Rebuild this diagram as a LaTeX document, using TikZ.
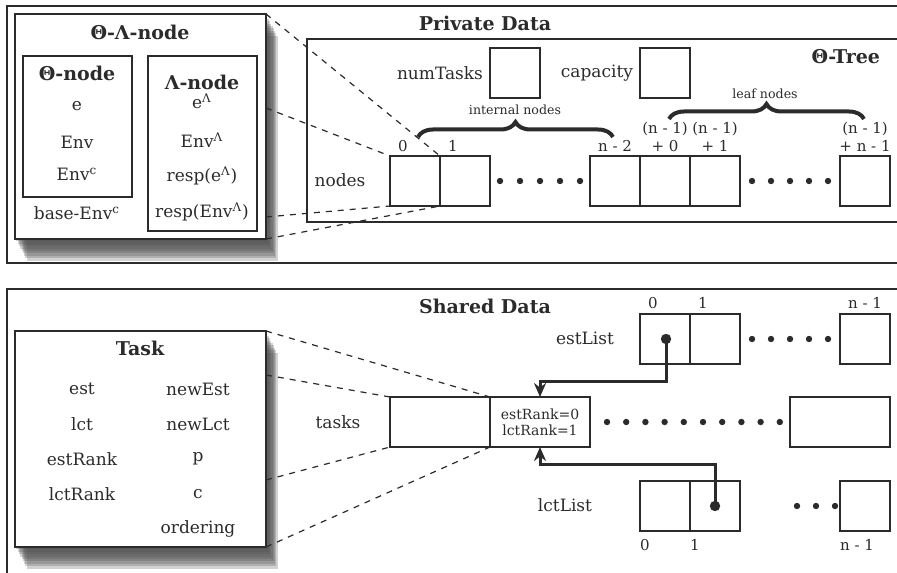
\documentclass[tikz,border=0pt]{standalone}
\usepackage{fontspec}
\setmainfont{DejaVu Serif}
\usetikzlibrary{positioning,backgrounds,arrows.meta,decorations.pathreplacing}
\definecolor{ink}{HTML}{2B2B2B}
\tikzset{
  frame/.style={draw=ink, line width=0.8pt},
  cell/.style={draw=ink, line width=0.75pt, minimum width=25pt, minimum height=25pt, inner sep=0pt, outer sep=0pt},
  widecell/.style={cell, minimum width=50pt},
  card/.style={draw=ink, line width=0.75pt, fill=white, inner sep=0pt, outer sep=0pt},
  inbox/.style={draw=ink, line width=0.75pt, inner sep=0pt, outer sep=0pt, minimum width=54.5pt},
  txt/.style={text=ink, font=\fontsize{8.5}{10}\selectfont},
  ttl/.style={text=ink, font=\bfseries\fontsize{9.5}{11}\selectfont},
  idx/.style={text=ink, font=\fontsize{7.5}{9}\selectfont, align=center},
  small/.style={text=ink, font=\fontsize{6.3}{7}\selectfont},
  zoomline/.style={draw=ink, dashed, line width=0.6pt},
  curly/.style={draw=ink, line width=2pt, decorate, decoration={brace, amplitude=7.5pt}},
  pointer/.style={draw=ink, line width=1.5pt, -{Stealth[length=7pt, width=6pt]}}
}
% soft shadow behind a card
\newcommand{\softshadow}[1]{%
  \begin{scope}[on background layer]
    \foreach \k in {1,...,9}
      \fill[black!70, opacity=.25] ([xshift=0.65*\k pt, yshift=-1.2*\k pt]#1.south west)
        rectangle ([xshift=0.65*\k pt, yshift=-1.2*\k pt]#1.north east);
  \end{scope}}
\begin{document}
\begin{tikzpicture}[x=0.5pt, y=-0.5pt]
  \useasboundingbox (0,0) rectangle (897,572);

  % Frames
  \draw[frame] (7,6) rectangle (905,263);
  \draw[frame] (307,39) rectangle (905,222);
  \draw[frame] (7,289) rectangle (905,580);

  % Theta-Lambda node
  \node[card, minimum width=125.5pt, minimum height=112.5pt] (tl) at (140.5,126.5) {};
  \softshadow{tl}
  \node[ttl] (tltitle) at (140,32) {Θ-Λ-node};
  \node[inbox, minimum height=70.5pt] (th) at (77.5,126.5) {};
  \node[inbox, minimum height=87.5pt] (la) at (202.5,143.5) {};
  \node[ttl] (thtitle) at (77,73) {Θ-node};
  \node[txt] (the) at (77,106) {e};
  \node[txt] (thenv) at (77,142) {Env};
  \node[txt] (thenvc) at (77,174) {Env\textsuperscript{c}};
  \node[txt] (base) at (77,213) {base-Env\textsuperscript{c}};
  \node[ttl] (latitle) at (202,82) {Λ-node};
  \node[txt] (lae) at (202,101) {e\textsuperscript{Λ}};
  \node[txt] (laenv) at (202,140) {Env\textsuperscript{Λ}};
  \node[txt] (lare) at (202,176) {resp(e\textsuperscript{Λ})};
  \node[txt] (larenv) at (202,212) {resp(Env\textsuperscript{Λ})};

  % Private data
  \node[ttl] (private) at (485,23) {Private Data};
  \node[ttl, anchor=east] (tree) at (887,57) {Θ-Tree};
  \node[cell] (num) at (515,73) {};
  \node[txt, left=0pt of num] (numl) {numTasks};
  \node[cell] (cap) at (665,73) {};
  \node[txt, left=0pt of cap] (capl) {capacity};

  \node[txt] (nodesl) at (340,180) {nodes};
  \node[cell] (n0) at (415,181) {};
  \node[cell, right=0pt of n0] (n1) {};
  \node[cell] (n2) at (615,181) {};
  \node[cell, right=0pt of n2] (f0) {};
  \node[cell, right=0pt of f0] (f1) {};
  \node[cell] (fn) at (865,181) {};
  \foreach \x in {500,520,...,580} \fill[ink] (\x,181) circle (1.6pt);
  \foreach \x in {752,771,...,828} \fill[ink] (\x,181) circle (1.6pt);

  \node[idx] (n0i) at (403,146) {0};
  \node[idx] (n1i) at (453,146) {1};
  \node[idx] (n2i) at (615,146) {n - 2};
  \node[idx] (f0i) at (665,137) {(n - 1)\\+ 0};
  \node[idx] (f1i) at (715,137) {(n - 1)\\+ 1};
  \node[idx] (fni) at (865,137) {(n - 1)\\+ n - 1};

  \draw[curly] (418,137) -- (613,137);
  \node[small] (intl) at (515,110) {internal nodes};
  \draw[curly] (669,119) -- (864,119);
  \node[small] (leafl) at (765,94) {leaf nodes};

  \draw[zoomline] (tl.north east) -- (n1.north west);
  \draw[zoomline] ([yshift=9.25pt]tl.east) -- (n0.north west);
  \draw[zoomline] ([yshift=-45.25pt]tl.east) -- (n0.south west);
  \draw[zoomline] (tl.south east) -- (n1.south west);

  % Task
  \node[card, minimum width=125.5pt, minimum height=108pt] (task) at (140.5,439) {};
  \softshadow{task}
  \node[ttl] (tasktitle) at (140,348) {Task};
  \node[txt] (est) at (82,389) {est};
  \node[txt] (lct) at (82,424) {lct};
  \node[txt] (estr) at (82,459) {estRank};
  \node[txt] (lctr) at (82,494) {lctRank};
  \node[txt] (nest) at (198,389) {newEst};
  \node[txt] (nlct) at (198,424) {newLct};
  \node[txt] (p) at (198,459) {p};
  \node[txt] (c) at (198,494) {c};
  \node[txt] (ord) at (198,529) {ordering};

  % Shared data
  \node[ttl] (shared) at (485,306) {Shared Data};

  \node[txt] (estl) at (585,338) {estList};
  \node[cell] (e0) at (665,339) {};
  \node[cell, right=0pt of e0] (e1) {};
  \node[cell] (en) at (865,339) {};
  \foreach \x in {752,771,...,828} \fill[ink] (\x,339) circle (1.6pt);
  \node[idx] (e0i) at (653,303) {0};
  \node[idx] (e1i) at (703,303) {1};
  \node[idx] (eni) at (865,303) {n - 1};

  \node[txt] (tasksl) at (338,422) {tasks};
  \node[widecell] (t0) at (440,422) {};
  \node[widecell, right=0pt of t0, align=center, font=\fontsize{7}{8}\selectfont, text=ink] (t1) {estRank=0\\lctRank=1};
  \node[widecell] (tn) at (840,422) {};
  \foreach \i in {0,...,9} \fill[ink] ({607+19.2*\i},422) circle (1.6pt);

  \node[txt] (lctl) at (565,505) {lctList};
  \node[cell] (l0) at (665,506) {};
  \node[cell, right=0pt of l0] (l1) {};
  \node[cell] (ln) at (865,506) {};
  \foreach \x in {797,816,835} \fill[ink] (\x,506) circle (1.6pt);
  \node[idx] (l0i) at (645,545) {0};
  \node[idx] (l1i) at (695,545) {1};
  \node[idx] (lni) at (857,545) {n - 1};

  \draw[zoomline] (task.north east) -- (t1.north west);
  \draw[zoomline] ([yshift=32pt]task.east) -- (t0.north west);
  \draw[zoomline] ([yshift=-20.5pt]task.east) -- (t0.south west);
  \draw[zoomline] (task.south east) -- (t1.south west);

  % Pointers
  \fill[ink] ([xshift=0.5pt]e0.center) circle (2.6pt);
  \draw[pointer] ([xshift=0.5pt]e0.center) -- ++(0,42) -| (t1.north);
  \fill[ink] (l1.center) circle (2.6pt);
  \draw[pointer] (l1.center) -- ++(0,-42) -| (t1.south);
\end{tikzpicture}
\end{document}
